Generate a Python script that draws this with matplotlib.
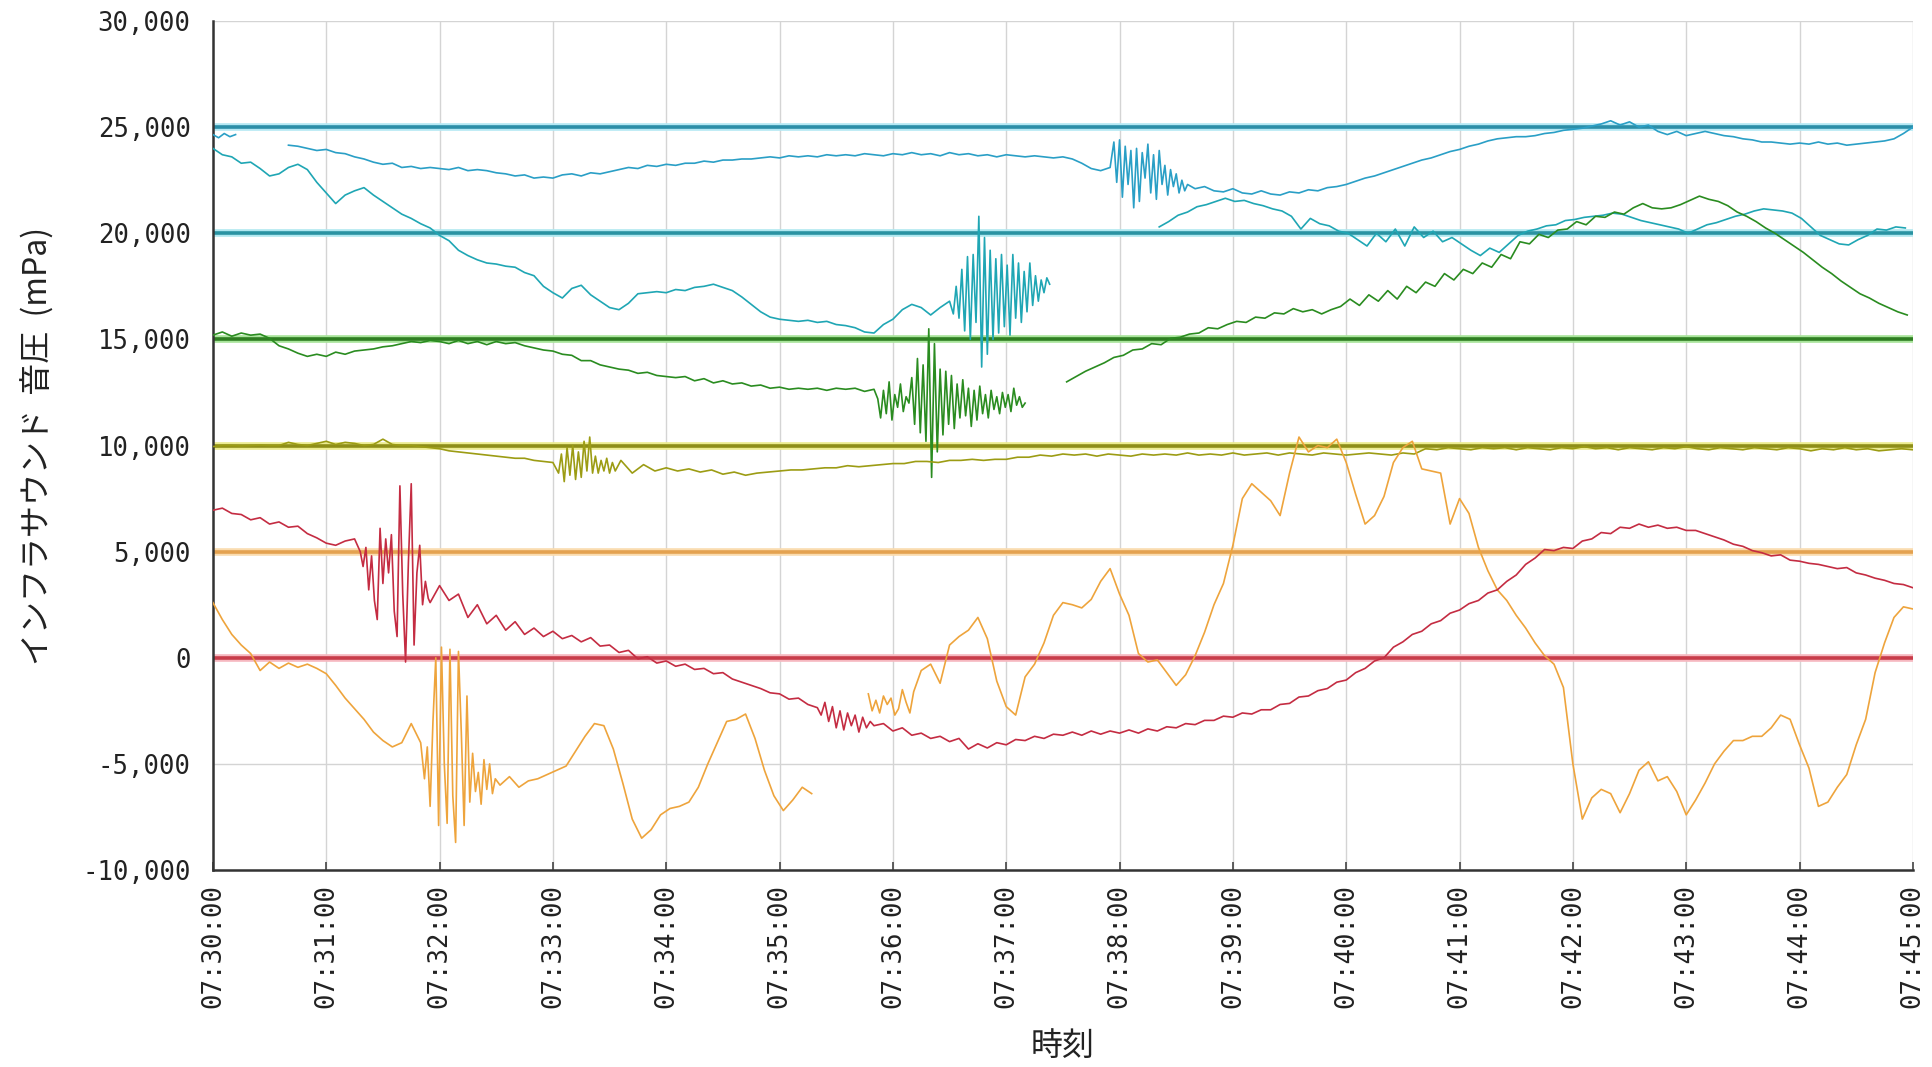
import numpy as np
import matplotlib.pyplot as plt
from matplotlib import patheffects as pe
from matplotlib.ticker import FuncFormatter

# time axis: seconds after 07:30:00
# every trace is a list of runs (gaps between runs), every run a list of
# pieces (start_s, step_s, values in mPa)

red_runs = [[
    (0, 5, [6950, 7050, 6800, 6750, 6500, 6600, 6300, 6400, 6150, 6200, 5850, 5650,
            5400, 5300, 5500, 5600]),
    (78, 1.5, [5000, 4300, 5200, 3200, 4800, 2700, 1800, 6100, 3500, 5600, 4000, 5800,
               2200, 1000, 8100, 3000, -200, 4500, 8200, 600, 4000, 5300, 2500, 3600, 2800]),
    (115, 5, [2600, 3400, 2700, 3000, 1900, 2500, 1600, 2000, 1300, 1700, 1100, 1400,
              1000, 1250, 900, 1050, 750, 950, 550, 600, 250, 350, -50, 50, -250, -150,
              -400, -300, -550, -500, -750, -700, -1000, -1150, -1300, -1450, -1650,
              -1700, -1950, -1900, -2200, -2350]),
    (322, 2, [-2700, -2100, -3000, -2300, -3300, -2500, -3400, -2600, -3200, -2700,
              -3500, -2800, -3300, -3000, -3200]),
    (355, 5, [-3100, -3450, -3300, -3650, -3550, -3800, -3700, -3950, -3800, -4300,
              -4050, -4250, -4000, -4100, -3850, -3900, -3700, -3800, -3600, -3650,
              -3500, -3650, -3450, -3600, -3450, -3550, -3400, -3550, -3350, -3450,
              -3250, -3300, -3100, -3150, -2950, -2950, -2750, -2800, -2600, -2650,
              -2450, -2450, -2200, -2150, -1850, -1800, -1550, -1450, -1150, -1050,
              -700, -500, -150, 0, 500, 750, 1100, 1250, 1600, 1750, 2100, 2250, 2550,
              2700, 3050, 3200, 3600, 3900, 4400, 4700, 5100, 5050, 5200, 5150, 5500,
              5600, 5900, 5850, 6150, 6100, 6300, 6150, 6250, 6100, 6150, 6000, 6000,
              5850, 5700, 5550, 5350, 5250, 5050, 4950, 4800, 4850, 4600, 4550, 4450,
              4400, 4300, 4200, 4250, 4000, 3900, 3750, 3650, 3500, 3450, 3300]),
]]

orange_runs = [[
    (0, 5, [2600, 1800, 1100, 600, 200, -600, -200, -500, -250, -450, -300, -500,
            -750, -1300, -1900, -2400, -2900, -3500, -3900, -4200, -4000, -3100, -4000]),
    (112, 1.5, [-5700, -4200, -7000, -3000, 0, -7900, 500, -5000, -7800, 400, -6500,
                -8700, 300, -3500, -7900, -1800, -6800, -4500, -6300, -5400, -6900,
                -4800, -6200, -5000, -6400, -5700]),
    (152, 5, [-6000, -5600, -6100, -5800, -5700, -5500, -5300, -5100, -4400, -3700,
              -3100, -3200, -4300, -5900, -7600, -8500, -8100, -7400, -7100, -7000,
              -6800, -6100, -5000, -4000, -3000, -2900, -2650, -3800, -5300, -6500,
              -7200, -6700, -6100, -6400]),
], [
    (347, 2, [-1700, -2500, -2000, -2600, -1800, -2200, -1900, -2700, -2400, -1500,
              -2100, -2600, -1600]),
    (375, 5, [-600, -300, -1200, 600, 1000, 1300, 1900, 900, -1100, -2300, -2700,
              -900, -300, 700, 2000, 2600, 2500, 2350, 2750, 3600, 4200, 3000, 2000,
              200, -200, -100, -700, -1300, -800, 100, 1200, 2500, 3500, 5300, 7500,
              8200, 7800, 7400, 6700, 8700, 10400, 9700, 10000, 9900, 10300, 9200,
              7700, 6300, 6700, 7600, 9200, 9900, 10200, 8900, 8800, 8700, 6300, 7500,
              6800, 5200, 4100, 3200, 2700, 2000, 1400, 700, 100, -300, -1400, -5000,
              -7600, -6600, -6200, -6400, -7300, -6400, -5300, -4900, -5800, -5600,
              -6300, -7400, -6700, -5900, -5000, -4400, -3900, -3900, -3700, -3700,
              -3300, -2700, -2900, -4100, -5200, -7000, -6800, -6100, -5500, -4100,
              -2900, -700, 700, 1900, 2400, 2300]),
]]

olive_runs = [[
    (0, 5, [9950, 10000, 10000, 9980, 10000, 10020, 10000, 10000, 10150, 10050, 10000,
            10100, 10200, 10050, 10150, 10100, 10000, 10050, 10300, 10050, 10000,
            10000, 9950, 9900, 9850, 9750, 9700, 9650, 9600, 9550, 9500, 9450, 9400,
            9400, 9300, 9250, 9200]),
    (183, 1.5, [8700, 9600, 8300, 9900, 8600, 10000, 8400, 9700, 8500, 10200, 8800,
                10400, 8700, 9500, 8700, 9300, 8800, 9400, 8700, 9200, 8800]),
    (216, 6, [9300, 8700, 9100, 8800, 8950, 8800, 8900, 8750, 8850, 8650, 8750, 8600,
              8700, 8750, 8800, 8850, 8850, 8900, 8950, 8950, 9050, 9000, 9050, 9100,
              9150, 9150, 9250, 9250, 9200, 9300, 9300, 9350, 9300, 9350, 9350, 9450,
              9450, 9550, 9500, 9600, 9550, 9600, 9500, 9600, 9550, 9500, 9600, 9550,
              9600, 9550, 9650, 9550, 9600, 9550, 9650, 9550, 9600, 9650, 9550, 9650,
              9600, 9550, 9650, 9600, 9550, 9600, 9650, 9600, 9550, 9650, 9600, 9850,
              9800, 9900, 9850, 9800, 9900, 9850, 9900, 9800, 9900, 9850, 9800, 9900,
              9850, 9950, 9850, 9900, 9800, 9900, 9850, 9800, 9900, 9850, 9950, 9850,
              9800, 9900, 9850, 9800, 9900, 9850, 9800, 9900, 9850, 9750, 9850, 9800,
              9900, 9800, 9850, 9750, 9800, 9850, 9800]),
]]

green_runs = [[
    (0, 5, [15200, 15350, 15150, 15300, 15200, 15250, 15050, 14700, 14550, 14350,
            14200, 14300, 14200, 14400, 14300, 14450, 14500, 14550, 14650, 14700,
            14800, 14900, 14850, 14950, 14900, 14800, 14950, 14800, 14900, 14750,
            14900, 14800, 14850, 14700, 14600, 14500, 14450, 14300, 14250, 14000,
            14000, 13800, 13700, 13600, 13550, 13400, 13450, 13300, 13250, 13200,
            13250, 13050, 13150, 12950, 13050, 12900, 12950, 12800, 12850, 12700,
            12750, 12650, 12700, 12650, 12700, 12600, 12700, 12650, 12700, 12550, 12650]),
    (352, 1.5, [12200, 11300, 12600, 11500, 13000, 11200, 12400, 11800, 12900, 11600,
                12300, 12000, 13200, 11000, 14100, 10600, 13800, 10200, 15500, 8500,
                14800, 9700, 13600, 10500, 13500, 11000, 13300, 10800, 12900, 11300,
                13100, 11400, 12700, 10900, 12600, 11200, 12800, 11500, 12400, 11300,
                12600, 11700, 12300, 11500, 12500, 11800, 12400, 11600, 12700, 11900,
                12300, 11800, 12000]),
], [
    (452, 5, [13000, 13250, 13500, 13700, 13900, 14150, 14250, 14500, 14550, 14800,
              14750, 15050, 15100, 15250, 15300, 15550, 15500, 15700, 15850, 15800,
              16050, 16000, 16250, 16200, 16450, 16300, 16400, 16200, 16400, 16550,
              16900, 16600, 17100, 16800, 17300, 16900, 17500, 17200, 17700, 17500,
              18100, 17800, 18300, 18100, 18600, 18400, 19000, 18800, 19600, 19500,
              19950, 19800, 20150, 20200, 20550, 20400, 20800, 20750, 21000, 20900,
              21200, 21400, 21200, 21150, 21200, 21350, 21550, 21750, 21600, 21500,
              21300, 21000, 20800, 20550, 20250, 20000, 19700, 19400, 19100, 18750,
              18400, 18100, 17750, 17450, 17150, 16950, 16700, 16500, 16300, 16150]),
]]

teal_runs = [[
    (0, 5, [24000, 23700, 23600, 23300, 23350, 23050, 22700, 22800, 23100, 23250,
            23000, 22400, 21900, 21400, 21800, 22000, 22150, 21800, 21500, 21200,
            20900, 20700, 20450, 20250, 19900, 19650, 19200, 18950, 18750, 18600,
            18550, 18450, 18400, 18150, 18000, 17500, 17200, 16950, 17400, 17550,
            17100, 16800, 16500, 16400, 16700, 17150, 17200, 17250, 17200, 17350,
            17300, 17450, 17500, 17600, 17450, 17300, 17000, 16650, 16300, 16050,
            15950, 15900, 15850, 15900, 15800, 15850, 15700, 15650, 15550, 15350,
            15300, 15700, 15950, 16400, 16650, 16500, 16150, 16500, 16800]),
    (392, 1.5, [16200, 17500, 16000, 18300, 15400, 18900, 15000, 19000, 15800, 20800,
                13700, 19800, 14300, 19200, 15000, 18800, 15300, 19000, 15600, 18500,
                15200, 19000, 16000, 18600, 15800, 18200, 16300, 18600, 16600, 18000,
                16800, 17800, 17200, 17900, 17600]),
], [
    (501, 5, [20300, 20550, 20850, 21000, 21250, 21350, 21500, 21650, 21500, 21550,
              21400, 21300, 21150, 21050, 20800, 20200, 20700, 20450, 20350, 20100,
              20000, 19700, 19400, 20000, 19600, 20200, 19400, 20300, 19800, 20100,
              19600, 19800, 19500, 19200, 18950, 19300, 19100, 19500, 19900, 20100,
              20200, 20350, 20400, 20600, 20650, 20750, 20800, 20850, 20950, 20900,
              20750, 20600, 20500, 20400, 20300, 20200, 20000, 20200, 20400, 20500,
              20650, 20800, 20900, 21050, 21150, 21100, 21050, 20950, 20700, 20300,
              19900, 19700, 19500, 19450, 19700, 19900, 20200, 20150, 20300, 20250]),
]]

blue_runs = [[
    (0, 3, [24650, 24500, 24700, 24550, 24650]),
], [
    (40, 5, [24150, 24100, 24000, 23900, 23950, 23800, 23750, 23600, 23500, 23350,
             23250, 23300, 23100, 23150, 23050, 23100, 23050, 23000, 23100, 22950,
             23000, 22950, 22850, 22800, 22700, 22750, 22600, 22650, 22600, 22750,
             22800, 22700, 22850, 22800, 22900, 23000, 23100, 23050, 23200, 23150,
             23250, 23200, 23300, 23300, 23400, 23350, 23450, 23450, 23500, 23500,
             23550, 23600, 23550, 23650, 23600, 23650, 23600, 23700, 23650, 23700,
             23650, 23750, 23700, 23650, 23750, 23700, 23800, 23700, 23750, 23650,
             23800, 23700, 23750, 23650, 23700, 23600, 23700, 23650, 23600, 23650,
             23600, 23550, 23600, 23500, 23300, 23050, 22950, 23100]),
    (477, 1.5, [24300, 22400, 24400, 21700, 24100, 22300, 23900, 21200, 24000, 21500,
                23800, 22600, 24200, 21900, 23700, 21600, 23900, 22300, 23200, 21800,
                23000, 22200, 22800, 21900, 22500, 22000, 22300]),
    (520, 5, [22100, 22200, 22000, 21950, 22100, 21900, 21850, 22000, 21850, 21800,
              21950, 21900, 22050, 22000, 22150, 22200, 22300, 22450, 22600, 22700,
              22850, 23000, 23150, 23300, 23450, 23550, 23700, 23850, 23950, 24100,
              24200, 24350, 24450, 24500, 24550, 24550, 24600, 24700, 24750, 24850,
              24900, 24950, 25050, 25150, 25300, 25100, 25250, 25000, 25100, 24800,
              24650, 24800, 24600, 24700, 24800, 24700, 24600, 24550, 24450, 24400,
              24300, 24300, 24250, 24200, 24250, 24200, 24300, 24200, 24250, 24150,
              24200, 24250, 24300, 24350, 24450, 24700, 25000]),
]]

baselines = [25000, 20000, 15000, 10000, 5000, 0]
trace_colors = ['#2a9fc6', '#1fa6b4', '#2a8c20', '#9c9c14', '#eea43c', '#c42c42']
line_colors = ['#2b8ea8', '#2a93a2', '#2f7e22', '#8e8e18', '#e4a250', '#c83c4a']
glow_colors = ['#b4e8f4', '#b0e8f0', '#a8e49a', '#ecec90', '#fadcb0', '#f6b8c0']
all_runs = [blue_runs, teal_runs, green_runs, olive_runs, orange_runs, red_runs]

minute_labels = ['07:%02d:00' % m for m in range(30, 46)]
jp_font = ['Noto Sans CJK JP', 'DejaVu Sans']


def run_xy(run):
    t, v = [], []
    for start, step, vals in run:
        t.extend(start + step * np.arange(len(vals)))
        v.extend(vals)
    return t, v


fig = plt.figure(figsize=(19.32, 10.67), dpi=100)
ax = fig.add_axes([0.1102, 0.1846, 0.8799, 0.7957])

for base, lc, gc in zip(baselines, line_colors, glow_colors):
    ax.axhline(base, color=lc, lw=2.6, zorder=2,
               path_effects=[pe.Stroke(linewidth=5.5, foreground=gc), pe.Normal()])

for runs, col in zip(all_runs, trace_colors):
    for run in runs:
        t, v = run_xy(run)
        ax.plot(t, v, color=col, lw=1.2, zorder=3)

ax.set_xlim(0, 900)
ax.set_ylim(-10000, 30000)
ax.set_xticks(range(0, 901, 60))
ax.set_xticklabels(minute_labels, rotation=90, fontfamily='DejaVu Sans Mono',
                   fontsize=18.5, color='#222222')
ax.set_yticks(range(-10000, 30001, 5000))
ax.yaxis.set_major_formatter(FuncFormatter(lambda y, p: '{:,}'.format(int(y))))
for lab in ax.get_yticklabels():
    lab.set_fontfamily('DejaVu Sans Mono')
    lab.set_fontsize(18.5)
    lab.set_color('#222222')

ax.grid(True, color='#d4d4d4', lw=1.0, zorder=0)
ax.set_axisbelow(True)
ax.tick_params(axis='x', direction='in', length=6, width=1.2, color='#444444', pad=10)
ax.tick_params(axis='y', length=0, pad=16)

for side in ['top', 'right']:
    ax.spines[side].set_visible(False)
for side in ['left', 'bottom']:
    ax.spines[side].set_color('#333333')
    ax.spines[side].set_linewidth(1.8)

ax.set_xlabel('時刻', family=jp_font, fontsize=23, labelpad=16, color='#222222')
ax.set_ylabel('インフラサウンド  音圧  (mPa)', family=jp_font, fontsize=23, labelpad=20,
              color='#222222')

fig.savefig('out.png', dpi=100, facecolor='white')
